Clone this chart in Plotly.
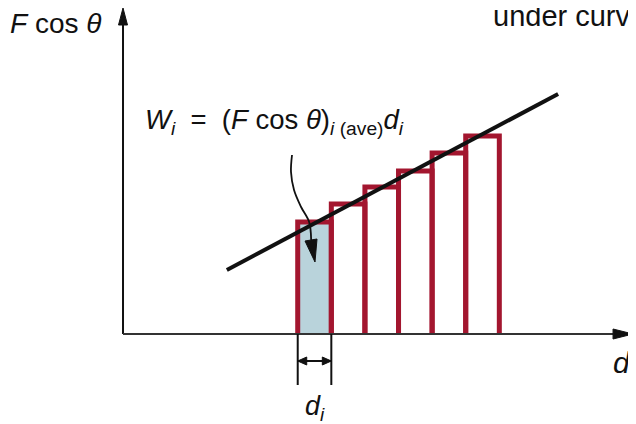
import plotly.graph_objects as go

# ---- data (arbitrary units: d in strip widths, F cos θ in force units) ----
bar_left = [5.2, 6.2, 7.2, 8.2, 9.2, 10.2]
bar_width = 1.0
bar_height = [11.2, 13.0, 14.7, 16.3, 18.1, 19.8]
highlight_index = 0

trend_d = [3.09, 12.95]
trend_f = [6.4, 24.0]

# pointer (curvy arrow) path, from equation down into highlighted strip
pointer_d = [5.03, 5.00, 5.09, 5.30, 5.54, 5.60]
pointer_f = [17.9, 16.2, 14.4, 12.7, 11.2, 9.4]
pointer_head_d = [5.417, 5.714, 5.774]
pointer_head_f = [9.3, 7.2, 9.5]

# axis extents
d_axis_end = 15.18
f_axis_end = 32.6

W, H = 628, 416
x_range = [-3.423, 15.268]
y_range = [-9.0, 32.6]

RED = "#A3162F"
BLUE = "#B9D3DB"
INK = "#111111"
FONT = "Liberation Sans, Arial, Helvetica, sans-serif"

fig = go.Figure()

# highlighted strip fill
l = bar_left[highlight_index]
r = l + bar_width
h = bar_height[highlight_index]
fig.add_trace(go.Scatter(x=[l, l, r, r, l], y=[0, h, h, 0, 0], mode="lines",
                         fill="toself", fillcolor=BLUE, line=dict(width=0),
                         hoverinfo="skip"))

# strip outlines
for l, h in zip(bar_left, bar_height):
    r = l + bar_width
    fig.add_trace(go.Scatter(x=[l, l, r, r], y=[0, h, h, 0], mode="lines",
                             line=dict(color=RED, width=5), hoverinfo="skip"))

# force curve (straight line)
fig.add_trace(go.Scatter(x=trend_d, y=trend_f, mode="lines",
                         line=dict(color=INK, width=4), hoverinfo="skip"))

# curvy pointer
fig.add_trace(go.Scatter(x=pointer_d, y=pointer_f, mode="lines",
                         line=dict(color=INK, width=1.8, shape="spline"),
                         hoverinfo="skip"))
fig.add_trace(go.Scatter(x=pointer_head_d + [pointer_head_d[0]],
                         y=pointer_head_f + [pointer_head_f[0]], mode="lines",
                         fill="toself", fillcolor=INK, line=dict(color=INK, width=1),
                         hoverinfo="skip"))

# axes with arrowheads
xu = (x_range[1] - x_range[0]) / W   # data per pixel (x)
yu = (y_range[1] - y_range[0]) / H   # data per pixel (y)
fig.add_trace(go.Scatter(x=[0, 0], y=[0, f_axis_end - 17 * yu], mode="lines",
                         line=dict(color=INK, width=2), hoverinfo="skip"))
fig.add_trace(go.Scatter(x=[-4.5 * xu, 4.5 * xu, 0, -4.5 * xu],
                         y=[f_axis_end - 17 * yu, f_axis_end - 17 * yu, f_axis_end, f_axis_end - 17 * yu],
                         mode="lines", fill="toself", fillcolor=INK,
                         line=dict(color=INK, width=1), hoverinfo="skip"))
fig.add_trace(go.Scatter(x=[0, d_axis_end - 20 * xu], y=[0, 0], mode="lines",
                         line=dict(color="#333333", width=2), hoverinfo="skip"))
fig.add_trace(go.Scatter(x=[d_axis_end - 20 * xu, d_axis_end - 20 * xu, d_axis_end, d_axis_end - 20 * xu],
                         y=[-5 * yu, 5 * yu, 0, -5 * yu],
                         mode="lines", fill="toself", fillcolor=INK,
                         line=dict(color=INK, width=1), hoverinfo="skip"))

# dimension marker for d_i
l = bar_left[highlight_index]
r = l + bar_width
dim_low = -51 * yu
dim_y = -27 * yu
for xv in (l, r):
    fig.add_trace(go.Scatter(x=[xv, xv], y=[0, dim_low], mode="lines",
                             line=dict(color=INK, width=2), hoverinfo="skip"))
fig.add_trace(go.Scatter(x=[l, r], y=[dim_y, dim_y], mode="lines",
                         line=dict(color=INK, width=2), hoverinfo="skip"))
for tip, base in ((l, l + 9 * xu), (r, r - 9 * xu)):
    fig.add_trace(go.Scatter(x=[base, base, tip, base],
                             y=[dim_y - 4 * yu, dim_y + 4 * yu, dim_y, dim_y - 4 * yu],
                             mode="lines", fill="toself", fillcolor=INK,
                             line=dict(color=INK, width=1), hoverinfo="skip"))

# texts
def txt(x, y, s, size, xanchor="left"):
    fig.add_annotation(x=x, y=y, xref="x", yref="y", text=s, showarrow=False,
                       xanchor=xanchor, yanchor="middle",
                       font=dict(family=FONT, size=size, color=INK))

txt(-3.42, 31.1, "<i>F</i> cos <i>θ</i>", 28)
txt(10.95, 31.8, "under curve", 29)
txt(0.6, 21.3, "<i>W<sub>i</sub></i>  =  (<i>F</i> cos <i>θ</i>)<sub><i>i</i> (ave)</sub><i>d<sub>i</sub></i>", 27.5)
txt(l + bar_width / 2, -7.4, "<i>d<sub>i</sub></i>", 27, xanchor="center")
txt(14.52, -2.8, "<i>d</i>", 30)

fig.update_layout(
    width=W, height=H, margin=dict(l=0, r=0, t=0, b=0),
    paper_bgcolor="white", plot_bgcolor="white", showlegend=False,
    xaxis=dict(range=x_range, visible=False, fixedrange=True),
    yaxis=dict(range=y_range, visible=False, fixedrange=True),
    hovermode=False,
)

fig.write_html("out.html")
